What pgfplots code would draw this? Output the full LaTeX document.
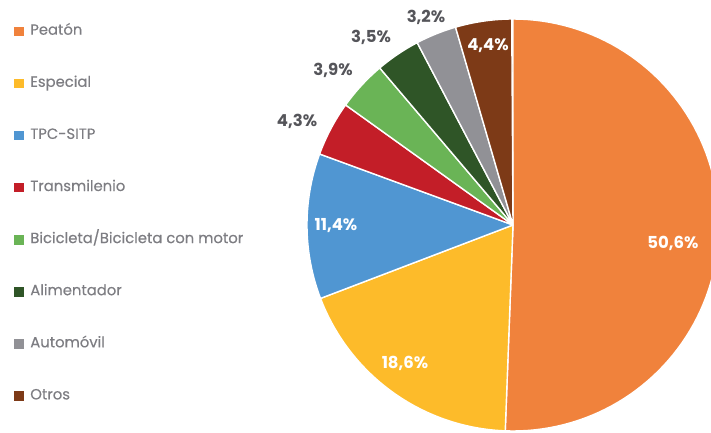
\documentclass[border=0pt]{standalone}
\usepackage{pgfplots}
\pgfplotsset{compat=1.18}
\usepackage{fontspec}
\setmainfont{Poppins}
\newfontfamily\legfont[FakeBold=0.35]{Poppins}

\definecolor{cPea}{RGB}{240,130,60}
\definecolor{cEsp}{RGB}{253,187,42}
\definecolor{cTpc}{RGB}{80,150,210}
\definecolor{cTra}{RGB}{195,30,40}
\definecolor{cBic}{RGB}{106,180,86}
\definecolor{cAli}{RGB}{47,85,39}
\definecolor{cAut}{RGB}{145,145,150}
\definecolor{cOtr}{RGB}{125,58,23}
\definecolor{legtxt}{RGB}{125,125,130}
\definecolor{labtxt}{RGB}{85,85,90}

% slice: #1 = cumulative share before it, #2 = share (%), #3 = colour
\newcommand{\slice}[3]{%
  \addplot[fill=#3, draw=white, line width=1.4pt, line join=round,
    domain=90-3.6*(#1+#2):90-3.6*(#1), samples=90]
    ({206*cos(x)},{206*sin(x)}) -- (axis cs:0,0) -- cycle;}

\begin{document}
\begin{tikzpicture}
\begin{axis}[
  scale only axis, width=711pt, height=432pt,
  xmin=-513, xmax=198, ymin=-207, ymax=225,
  hide axis, clip=true,
  legend image code/.code={\fill[#1, draw=none] (0pt,-4.7pt) rectangle (9.6pt,4.7pt);},
  legend style={at={(axis cs:-502,202)}, anchor=north west, draw=none, fill=none,
    font=\legfont\fontsize{14.8}{16}\selectfont, text=legtxt, row sep=39.6pt,
    nodes={inner sep=0pt, text height=9.5pt, text depth=3pt},
    column sep=6.5pt},
  legend cell align=left,
]
\slice{0}{50.6}{cPea}    \addlegendentry{Peatón}
\slice{50.6}{18.6}{cEsp} \addlegendentry{Especial}
\slice{69.2}{11.4}{cTpc} \addlegendentry{TPC-SITP}
\slice{80.6}{4.3}{cTra}  \addlegendentry{Transmilenio}
\slice{84.9}{3.9}{cBic}  \addlegendentry{Bicicleta/Bicicleta con motor}
\slice{88.8}{3.5}{cAli}  \addlegendentry{Alimentador}
\slice{92.3}{3.2}{cAut}  \addlegendentry{Automóvil}
\slice{95.5}{4.4}{cOtr}  \addlegendentry{Otros}

\begin{scope}[every node/.style={font=\fontsize{16.5}{18}\selectfont\bfseries}]
\node[white] at (axis cs:160,-18) {50,6\%};
\node[white] at (axis cs:-108,-138) {18,6\%};
\node[white] at (axis cs:-177,-1) {11,4\%};
\node[white] at (axis cs:-25,179) {4,4\%};
\node[labtxt] at (axis cs:-216,104) {4,3\%};
\node[labtxt] at (axis cs:-180,155) {3,9\%};
\node[labtxt] at (axis cs:-142,188) {3,5\%};
\node[labtxt] at (axis cs:-87,208) {3,2\%};
\end{scope}
\end{axis}
\pgfresetboundingbox
\path[use as bounding box] (current axis.south west) rectangle (current axis.north east);
\end{tikzpicture}
\end{document}
